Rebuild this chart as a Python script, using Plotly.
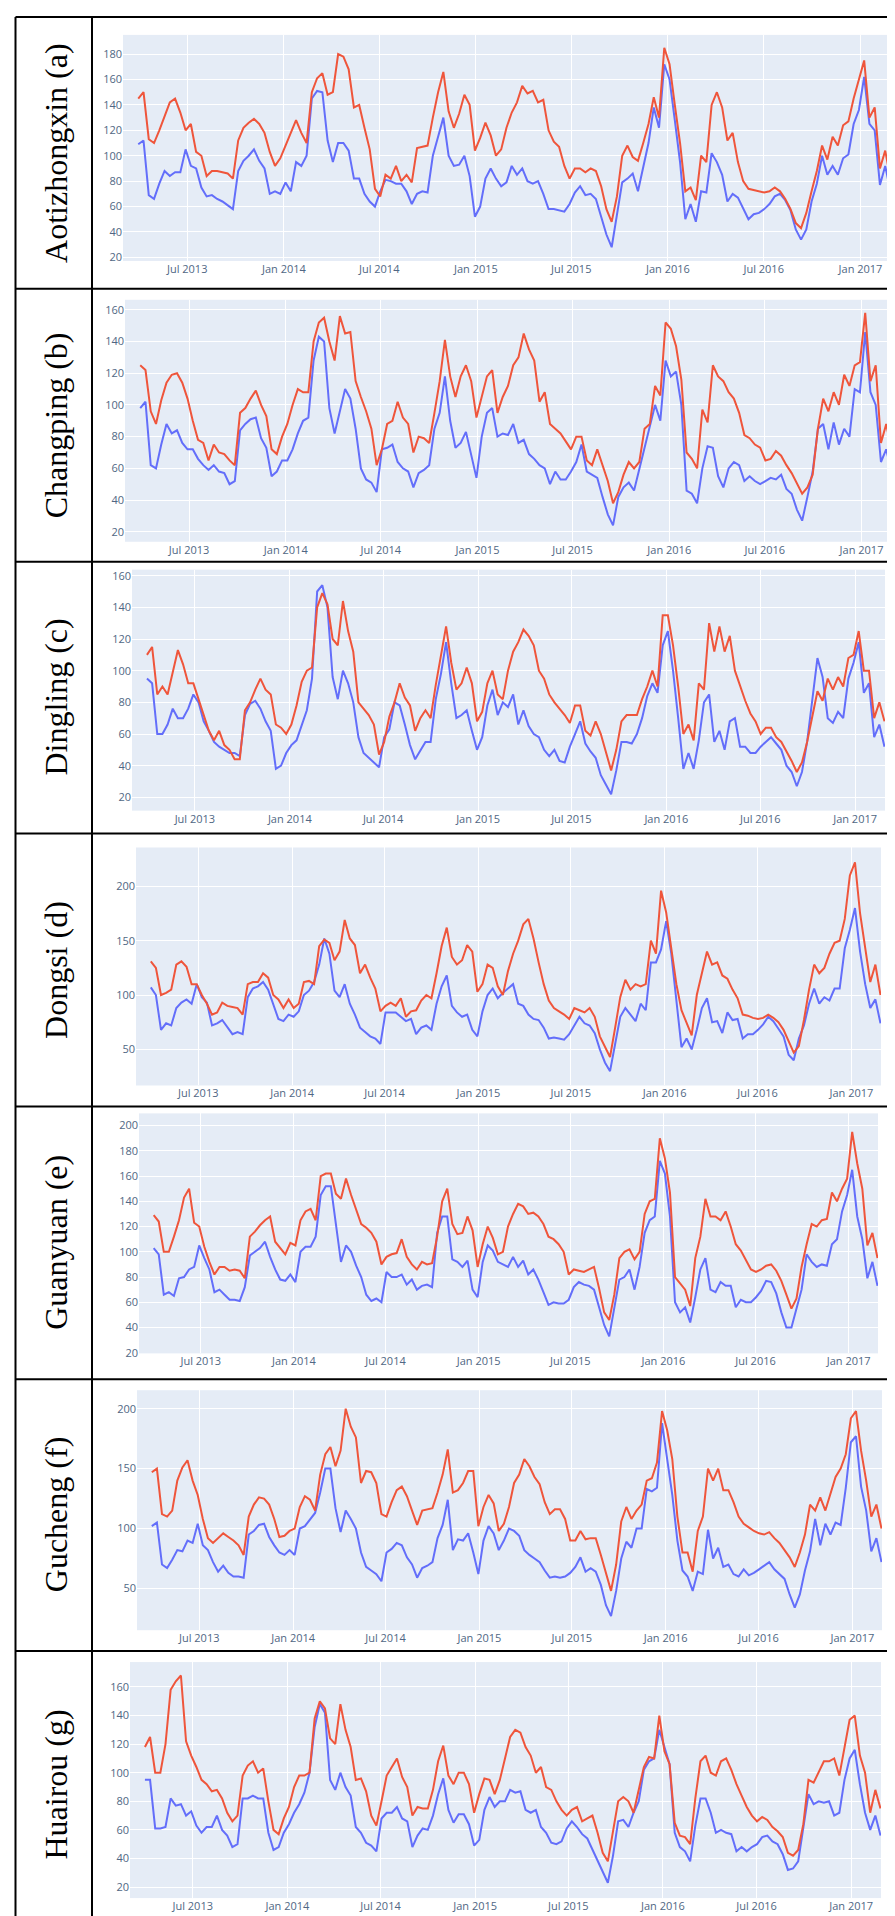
import pandas as pd
import plotly.graph_objects as go

# ---- data: 30-day rolling means, sampled every 10 days ----
dates = pd.date_range("2013-03-30", periods=144, freq="10D")

station_labels = ["Aotizhongxin (a)", "Changping (b)", "Dingling (c)", "Dongsi (d)",
                  "Guanyuan (e)", "Gucheng (f)", "Huairou (g)"]

aotizhongxin_blue = [
    109, 112, 69, 66, 78, 88, 84, 87, 87, 105, 92, 90,
    75, 68, 69, 66, 64, 61, 58, 88, 96, 100, 105, 96,
    90, 70, 72, 70, 79, 72, 95, 92, 100, 145, 151, 150,
    112, 95, 110, 110, 104, 82, 82, 70, 64, 60, 72, 81,
    80, 78, 78, 72, 62, 70, 72, 71, 100, 115, 130, 100,
    92, 93, 100, 84, 52, 60, 82, 90, 82, 76, 79, 92,
    85, 90, 80, 78, 80, 70, 58, 58, 57, 56, 62, 71,
    76, 69, 70, 66, 52, 38, 28, 52, 79, 82, 86, 72,
    92, 110, 138, 122, 172, 160, 128, 95, 50, 62, 48, 72,
    71, 102, 95, 85, 64, 70, 67, 58, 50, 54, 55, 58,
    62, 68, 70, 65, 57, 42, 34, 42, 64, 78, 100, 85,
    92, 85, 98, 101, 125, 136, 162, 125, 120, 77, 92, 72]
aotizhongxin_red = [
    145, 150, 113, 110, 120, 131, 142, 145, 134, 120, 125, 103,
    100, 84, 88, 88, 87, 86, 82, 112, 122, 126, 129, 125,
    118, 103, 92, 98, 108, 118, 128, 118, 110, 150, 161, 165,
    148, 150, 180, 178, 168, 138, 140, 122, 105, 74, 68, 85,
    82, 92, 80, 85, 79, 106, 107, 108, 130, 150, 166, 135,
    122, 133, 148, 140, 104, 114, 126, 116, 100, 105, 122, 134,
    142, 155, 149, 151, 142, 144, 120, 111, 107, 92, 82, 90,
    90, 87, 90, 88, 76, 58, 48, 68, 100, 108, 99, 96,
    110, 125, 146, 130, 185, 172, 140, 110, 72, 75, 65, 100,
    95, 140, 150, 138, 112, 118, 95, 80, 74, 73, 72, 71,
    72, 75, 72, 66, 58, 47, 43, 55, 72, 88, 108, 97,
    115, 108, 124, 127, 145, 160, 175, 130, 138, 90, 104, 82]

changping_blue = [
    98, 102, 62, 60, 75, 88, 82, 84, 76, 72, 72, 66,
    62, 59, 62, 58, 57, 50, 52, 84, 88, 91, 92, 79,
    73, 55, 58, 65, 65, 72, 82, 90, 92, 128, 143, 140,
    98, 82, 96, 110, 104, 85, 60, 53, 51, 45, 72, 73,
    75, 64, 60, 58, 48, 57, 59, 62, 85, 95, 118, 90,
    73, 76, 83, 68, 54, 80, 95, 98, 80, 82, 81, 88,
    76, 78, 69, 66, 62, 60, 50, 58, 53, 53, 58, 64,
    75, 58, 56, 54, 42, 31, 24, 42, 48, 51, 46, 60,
    72, 88, 100, 90, 128, 118, 121, 100, 46, 44, 38, 60,
    74, 73, 55, 48, 60, 64, 62, 52, 55, 52, 50, 52,
    54, 53, 56, 47, 44, 34, 27, 42, 58, 85, 88, 72,
    89, 75, 85, 80, 110, 108, 146, 108, 100, 64, 72, 58]
changping_red = [
    125, 122, 96, 88, 103, 114, 119, 120, 114, 104, 90, 78,
    76, 65, 75, 70, 69, 65, 62, 95, 98, 104, 109, 100,
    93, 72, 69, 80, 88, 100, 110, 108, 108, 140, 152, 155,
    140, 128, 156, 145, 146, 115, 105, 96, 85, 62, 72, 88,
    90, 102, 92, 88, 70, 80, 79, 76, 95, 115, 141, 118,
    105, 118, 125, 115, 92, 106, 118, 122, 95, 105, 112, 125,
    130, 145, 135, 128, 102, 108, 88, 85, 82, 77, 72, 80,
    80, 65, 62, 72, 62, 52, 38, 45, 56, 64, 60, 64,
    85, 88, 112, 106, 152, 148, 137, 116, 70, 66, 60, 97,
    89, 125, 118, 115, 108, 104, 95, 81, 79, 75, 73, 65,
    66, 71, 68, 62, 57, 50, 44, 48, 56, 85, 104, 96,
    108, 100, 119, 112, 125, 127, 158, 115, 125, 76, 88, 72]

dingling_blue = [
    95, 92, 60, 60, 66, 76, 70, 70, 76, 85, 80, 68,
    62, 55, 52, 50, 48, 48, 46, 72, 79, 81, 76, 68,
    62, 38, 40, 48, 53, 56, 65, 75, 95, 150, 154, 140,
    96, 82, 100, 92, 80, 58, 48, 45, 42, 39, 58, 63,
    80, 78, 66, 53, 44, 50, 55, 55, 82, 98, 118, 92,
    70, 72, 75, 62, 50, 58, 78, 88, 72, 80, 77, 85,
    66, 75, 65, 60, 58, 50, 46, 50, 43, 42, 52, 60,
    68, 54, 49, 45, 34, 28, 22, 37, 55, 55, 54, 60,
    70, 84, 92, 86, 116, 125, 100, 70, 38, 48, 38, 56,
    80, 85, 55, 62, 50, 68, 70, 52, 52, 48, 48, 52,
    55, 58, 54, 50, 40, 36, 27, 36, 55, 80, 108, 96,
    70, 67, 74, 70, 95, 105, 118, 86, 92, 58, 66, 52]
dingling_red = [
    110, 115, 85, 90, 85, 100, 113, 104, 92, 92, 82, 73,
    62, 56, 62, 53, 50, 44, 44, 75, 80, 88, 95, 88,
    85, 66, 64, 60, 66, 78, 93, 100, 102, 140, 149, 142,
    120, 116, 144, 125, 112, 80, 76, 72, 66, 47, 55, 71,
    80, 92, 83, 78, 62, 70, 75, 70, 91, 110, 128, 105,
    88, 92, 102, 92, 68, 74, 92, 100, 85, 82, 100, 112,
    118, 126, 122, 116, 100, 95, 85, 80, 76, 72, 67, 78,
    78, 62, 59, 68, 60, 49, 37, 50, 68, 72, 72, 72,
    82, 90, 100, 90, 135, 135, 116, 90, 60, 66, 56, 92,
    88, 130, 112, 128, 112, 122, 100, 90, 81, 73, 68, 60,
    64, 64, 58, 55, 49, 43, 36, 42, 55, 70, 87, 81,
    95, 88, 96, 90, 108, 110, 125, 100, 100, 70, 80, 68]

dongsi_blue = [
    107, 100, 68, 74, 72, 88, 93, 96, 92, 110, 98, 93,
    72, 74, 77, 70, 64, 66, 64, 98, 106, 108, 112, 105,
    92, 78, 76, 82, 80, 85, 100, 104, 112, 128, 152, 138,
    104, 98, 110, 92, 82, 70, 66, 62, 60, 55, 84, 84,
    84, 80, 76, 78, 64, 70, 72, 68, 92, 108, 118, 90,
    84, 80, 82, 68, 62, 85, 100, 106, 97, 102, 106, 110,
    92, 90, 82, 78, 77, 70, 60, 61, 60, 59, 64, 72,
    80, 74, 72, 65, 50, 38, 30, 55, 80, 88, 82, 76,
    92, 86, 130, 130, 142, 168, 138, 95, 52, 60, 50, 68,
    88, 97, 75, 76, 65, 84, 77, 78, 60, 64, 64, 68,
    73, 80, 76, 69, 62, 45, 40, 60, 72, 92, 106, 92,
    98, 95, 106, 106, 143, 160, 180, 140, 110, 88, 96, 74]
dongsi_red = [
    131, 125, 100, 102, 105, 128, 131, 126, 110, 110, 100, 92,
    82, 84, 93, 90, 89, 88, 82, 110, 112, 112, 120, 116,
    100, 96, 88, 96, 88, 92, 112, 113, 110, 145, 151, 148,
    132, 140, 169, 152, 146, 120, 128, 116, 106, 85, 90, 93,
    90, 97, 80, 85, 86, 95, 100, 97, 120, 145, 162, 135,
    128, 132, 146, 140, 103, 110, 128, 125, 108, 100, 122, 138,
    150, 165, 170, 152, 130, 110, 95, 88, 85, 82, 78, 88,
    86, 84, 88, 80, 62, 52, 43, 70, 98, 114, 105, 110,
    108, 110, 150, 138, 196, 176, 145, 110, 86, 75, 63, 100,
    120, 140, 128, 130, 118, 115, 105, 97, 82, 81, 79, 78,
    79, 82, 79, 75, 68, 58, 47, 53, 77, 105, 128, 120,
    125, 138, 148, 150, 170, 210, 222, 175, 145, 112, 128, 100]

guanyuan_blue = [
    103, 98, 66, 68, 65, 79, 80, 86, 88, 105, 95, 86,
    68, 70, 66, 62, 62, 61, 72, 97, 100, 103, 108, 96,
    86, 78, 77, 82, 76, 100, 104, 104, 112, 145, 152, 152,
    122, 92, 105, 100, 89, 80, 66, 61, 63, 60, 84, 80,
    80, 82, 74, 78, 70, 73, 74, 72, 115, 128, 128, 94,
    92, 88, 93, 70, 64, 92, 105, 101, 92, 90, 88, 96,
    88, 93, 82, 86, 78, 68, 58, 60, 59, 59, 62, 72,
    76, 74, 73, 70, 55, 42, 33, 55, 78, 80, 86, 70,
    88, 115, 125, 128, 172, 162, 128, 60, 52, 56, 44, 64,
    86, 95, 70, 68, 76, 73, 73, 56, 62, 60, 60, 64,
    69, 77, 76, 67, 52, 40, 40, 55, 70, 98, 92, 88,
    90, 89, 106, 110, 132, 145, 165, 128, 110, 79, 92, 73]
guanyuan_red = [
    129, 124, 100, 100, 112, 125, 143, 150, 123, 120, 104, 92,
    82, 88, 88, 85, 86, 85, 79, 112, 116, 121, 125, 128,
    108, 103, 98, 107, 105, 125, 132, 134, 125, 160, 162, 162,
    146, 142, 158, 145, 134, 122, 119, 115, 108, 90, 96, 98,
    99, 110, 96, 90, 86, 92, 90, 91, 112, 140, 150, 122,
    114, 115, 128, 117, 88, 106, 120, 111, 98, 100, 120, 130,
    138, 136, 130, 131, 128, 122, 112, 110, 106, 100, 82, 86,
    85, 84, 86, 88, 71, 52, 46, 66, 95, 100, 102, 94,
    100, 130, 140, 142, 190, 174, 147, 80, 75, 70, 57, 95,
    112, 142, 128, 128, 125, 132, 120, 106, 101, 93, 86, 84,
    86, 89, 90, 85, 77, 66, 55, 63, 88, 106, 122, 120,
    125, 126, 147, 140, 150, 158, 195, 170, 150, 105, 115, 95]

gucheng_blue = [
    102, 105, 70, 67, 74, 82, 81, 90, 88, 104, 86, 82,
    72, 64, 69, 63, 60, 60, 59, 95, 98, 103, 104, 93,
    86, 80, 78, 82, 78, 100, 102, 108, 113, 130, 150, 150,
    117, 97, 115, 108, 100, 80, 68, 65, 62, 56, 80, 83,
    88, 86, 76, 70, 59, 67, 69, 72, 92, 103, 124, 82,
    91, 90, 96, 80, 62, 90, 102, 96, 82, 90, 100, 98,
    94, 82, 78, 75, 72, 65, 59, 60, 59, 60, 63, 68,
    76, 64, 67, 64, 53, 36, 27, 48, 75, 89, 84, 100,
    100, 133, 131, 134, 188, 158, 128, 90, 65, 60, 48, 64,
    62, 99, 75, 84, 68, 70, 62, 60, 66, 61, 63, 66,
    69, 72, 66, 62, 58, 45, 34, 45, 65, 81, 108, 86,
    104, 95, 105, 103, 134, 172, 177, 135, 115, 81, 92, 72]
gucheng_red = [
    147, 150, 112, 110, 115, 140, 151, 157, 140, 128, 108, 92,
    88, 92, 96, 93, 90, 86, 78, 110, 120, 126, 125, 120,
    108, 93, 94, 98, 100, 118, 127, 124, 115, 145, 162, 168,
    152, 165, 200, 185, 176, 138, 148, 147, 138, 112, 110, 122,
    132, 135, 127, 115, 103, 115, 116, 117, 130, 145, 166, 130,
    132, 138, 148, 148, 102, 118, 128, 121, 98, 104, 118, 138,
    145, 158, 152, 143, 137, 122, 112, 116, 116, 108, 90, 90,
    98, 91, 92, 92, 78, 62, 48, 70, 106, 118, 108, 115,
    120, 140, 142, 155, 198, 182, 158, 110, 80, 80, 64, 98,
    110, 150, 140, 150, 132, 132, 122, 110, 104, 101, 98, 96,
    95, 97, 92, 88, 82, 76, 68, 80, 95, 120, 115, 126,
    115, 130, 143, 150, 162, 192, 198, 165, 140, 110, 120, 100]

huairou_blue = [
    95, 95, 61, 61, 62, 82, 77, 78, 70, 73, 63, 58,
    62, 62, 70, 60, 56, 48, 50, 82, 82, 84, 82, 82,
    58, 46, 48, 58, 64, 72, 78, 86, 100, 132, 148, 142,
    95, 88, 100, 90, 84, 62, 58, 51, 49, 45, 68, 72,
    72, 76, 68, 66, 48, 56, 61, 60, 70, 85, 96, 74,
    65, 71, 71, 64, 49, 53, 74, 83, 76, 80, 80, 88,
    86, 87, 74, 72, 74, 62, 58, 51, 50, 52, 61, 66,
    62, 57, 54, 46, 38, 30, 23, 42, 66, 67, 62, 72,
    80, 102, 108, 110, 130, 118, 106, 58, 48, 45, 38, 63,
    82, 82, 72, 58, 60, 58, 57, 45, 48, 45, 48, 50,
    55, 56, 52, 50, 43, 32, 33, 38, 62, 85, 78, 80,
    79, 80, 70, 72, 95, 110, 116, 92, 72, 60, 70, 56]
huairou_red = [
    118, 125, 100, 100, 120, 158, 164, 168, 122, 112, 104, 95,
    92, 87, 88, 82, 72, 66, 70, 98, 105, 108, 100, 103,
    80, 60, 57, 68, 76, 90, 98, 98, 100, 138, 150, 145,
    124, 120, 148, 130, 118, 95, 96, 87, 70, 63, 80, 98,
    104, 110, 97, 90, 70, 76, 75, 75, 88, 108, 119, 98,
    92, 100, 100, 92, 72, 85, 96, 95, 85, 95, 110, 125,
    130, 128, 118, 112, 100, 104, 90, 88, 80, 74, 70, 74,
    76, 66, 68, 70, 58, 44, 38, 58, 80, 83, 80, 72,
    87, 104, 111, 110, 140, 115, 106, 65, 56, 55, 50, 82,
    108, 112, 100, 98, 108, 110, 102, 92, 84, 76, 70, 66,
    69, 67, 62, 59, 55, 44, 42, 46, 64, 95, 93, 100,
    108, 108, 110, 98, 118, 137, 140, 112, 100, 72, 88, 75]

blue_series = [aotizhongxin_blue, changping_blue, dingling_blue, dongsi_blue,
               guanyuan_blue, gucheng_blue, huairou_blue]
red_series = [aotizhongxin_red, changping_red, dingling_red, dongsi_red,
              guanyuan_red, gucheng_red, huairou_red]

# ---- layout geometry (pixels in the 895 x 1916 page) ----
W, H = 895, 1916
plot_x = [(115, 883), (117, 884), (124, 877), (128, 873), (131, 870), (129, 874), (122, 873)]
plot_y = [(25, 252), (291, 534), (562, 804), (841, 1080), (1108, 1349), (1386, 1627), (1659, 1896)]
y_ranges = [(17.2, 195.1), (13.7, 166.3), (11.6, 163.8), (16.8, 235.7),
            (19.5, 209.7), (15.2, 215.4), (12.3, 177.4)]
y_dticks = [20, 20, 20, 50, 20, 50, 20]
row_lines = [7, 280, 554, 827, 1101, 1375, 1648]
row_bottom = 1916

fig = go.Figure()
layout_axes = {}
for i in range(7):
    n = "" if i == 0 else str(i + 1)
    xa, ya = "x" + n, "y" + n
    fig.add_trace(go.Scatter(x=dates[:len(blue_series[i])], y=blue_series[i], mode="lines",
                             line=dict(color="#636EFA", width=2), xaxis=xa, yaxis=ya,
                             showlegend=False))
    fig.add_trace(go.Scatter(x=dates[:len(red_series[i])], y=red_series[i], mode="lines",
                             line=dict(color="#EF553B", width=2), xaxis=xa, yaxis=ya,
                             showlegend=False))
    x0, x1 = plot_x[i]
    y0, y1 = plot_y[i]
    layout_axes["xaxis" + n] = dict(
        domain=[x0 / W, x1 / W], anchor=ya, range=["2013-03-01", "2017-02-28"],
        dtick="M6", tick0="2013-01-01", tickformat="%b %Y",
        tickfont=dict(size=11, color="#506784"), gridcolor="white", zeroline=False,
        showline=False, ticks="")
    layout_axes["yaxis" + n] = dict(
        domain=[1 - y1 / H, 1 - y0 / H], anchor=xa, range=list(y_ranges[i]),
        dtick=y_dticks[i], tick0=0, tickfont=dict(size=11, color="#506784"),
        gridcolor="white", zeroline=False, showline=False, ticks="")

shapes = []
for yl in row_lines:
    shapes.append(dict(type="line", xref="paper", yref="paper", x0=7.5 / W, x1=1,
                       y0=1 - yl / H, y1=1 - yl / H, line=dict(color="black", width=2)))
for xl in (7.5, 84):
    shapes.append(dict(type="line", xref="paper", yref="paper", x0=xl / W, x1=xl / W,
                       y0=0, y1=1 - row_lines[0] / H, line=dict(color="black", width=2)))

annotations = []
bounds = row_lines + [row_bottom]
for i, lab in enumerate(station_labels):
    yc = (bounds[i] + bounds[i + 1]) / 2
    annotations.append(dict(text=lab, x=48 / W, y=1 - yc / H, xref="paper", yref="paper",
                            xanchor="center", yanchor="middle", textangle=-90, showarrow=False,
                            font=dict(family="Liberation Serif, Times New Roman, serif",
                                      size=32, color="black")))

fig.update_layout(width=W, height=H, margin=dict(l=0, r=0, t=0, b=0),
                  paper_bgcolor="white", plot_bgcolor="#E5ECF6", template="plotly",
                  showlegend=False, shapes=shapes, annotations=annotations, **layout_axes)

fig.write_html("out.html")
